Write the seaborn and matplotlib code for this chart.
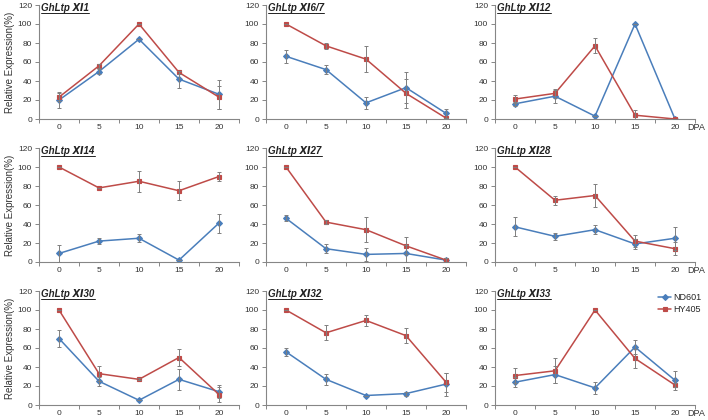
import numpy as np
import pandas as pd
import matplotlib
matplotlib.use("Agg")
import matplotlib.pyplot as plt
from matplotlib.lines import Line2D
import seaborn as sns

sns.set_style("ticks")
plt.rcParams['font.family'] = ['Liberation Sans', 'DejaVu Sans']

# data
dpa = ['0', '5', '10', '15', '20']
genes = ['GhLtp \u216a1', 'GhLtp \u216a6/7', 'GhLtp \u216a12',
         'GhLtp \u216a14', 'GhLtp \u216a27', 'GhLtp \u216a28',
         'GhLtp \u216a30', 'GhLtp \u216a32', 'GhLtp \u216a33']

nd601_mean = [[20, 50, 84, 42, 26],
              [66, 52, 17, 33, 6],
              [16, 24, 3, 100, 0],
              [9, 22, 25, 2, 41],
              [46, 14, 8, 9, 2],
              [37, 27, 34, 19, 25],
              [70, 25, 5, 27, 14],
              [56, 27, 10, 12, 22],
              [24, 32, 18, 61, 26]]
nd601_err = [[8, 3, 0, 9, 15],
             [7, 5, 6, 16, 5],
             [2, 7, 0, 0, 0],
             [9, 3, 4, 0, 10],
             [3, 5, 7, 9, 2],
             [10, 4, 5, 5, 12],
             [9, 5, 0, 11, 7],
             [4, 6, 0, 2, 12],
             [5, 9, 6, 7, 10]]
hy405_mean = [[23, 56, 100, 49, 23],
              [100, 77, 63, 27, 1],
              [21, 27, 77, 4, 0],
              [100, 78, 85, 75, 90],
              [100, 42, 34, 17, 2],
              [100, 65, 70, 22, 14],
              [100, 33, 27, 50, 11],
              [100, 76, 89, 73, 24],
              [31, 36, 100, 49, 21]]
hy405_err = [[4, 2, 0, 2, 12],
             [0, 3, 14, 15, 0],
             [4, 5, 8, 5, 0],
             [0, 0, 11, 10, 5],
             [0, 2, 13, 9, 2],
             [0, 5, 12, 6, 7],
             [0, 8, 1, 9, 8],
             [0, 8, 6, 8, 10],
             [8, 13, 0, 10, 2]]

lines = ['ND601', 'HY405']
colors = {'ND601': '#4A7EBB', 'HY405': '#BE4B48'}
spine_col = '#868686'
text_col = '#333333'

fig = plt.figure(figsize=(7.08, 4.2), dpi=100)

col_x = [39 / 708, 266 / 708, 495 / 708]
col_w = 200 / 708
row_y = [1 - 119 / 420, 1 - 262 / 420, 1 - 405 / 420]
row_h = 114 / 420

titles = []
for i, gene in enumerate(genes):
    r, c = divmod(i, 3)
    ax = fig.add_axes([col_x[c], row_y[r], col_w, row_h])

    df = pd.DataFrame({
        'DPA': dpa * 2,
        'line': ['ND601'] * 5 + ['HY405'] * 5,
        'value': nd601_mean[i] + hy405_mean[i],
    })
    sns.pointplot(data=df, x='DPA', y='value', hue='line', order=dpa,
                  hue_order=lines, palette=colors, markers=['D', 's'],
                  errorbar=None, markersize=3.0, linewidth=1.1,
                  legend=(i == 8), ax=ax)

    xpos = np.arange(len(dpa))
    for m, e in [(nd601_mean[i], nd601_err[i]), (hy405_mean[i], hy405_err[i])]:
        ax.errorbar(xpos, m, yerr=e, fmt='none', ecolor='#7F7F7F',
                    elinewidth=0.7, capsize=1.5, capthick=0.7, zorder=5)

    ax.set_xlim(-0.5, len(dpa) - 0.5)
    ax.set_ylim(0, 120)
    ax.set_yticks(range(0, 121, 20))
    ax.set_xticks(xpos)
    ax.set_xticklabels(dpa)
    ax.set_xticks(np.arange(-0.5, len(dpa), 1.0), minor=True)
    ax.tick_params(axis='x', which='major', length=0, labelsize=6,
                   colors=text_col, pad=3.5)
    ax.tick_params(axis='x', which='minor', length=3, color=spine_col,
                   width=0.7)
    ax.tick_params(axis='y', length=3, labelsize=6, colors=text_col,
                   width=0.7, pad=2)
    ax.tick_params(axis='y', color=spine_col)
    sns.despine(ax=ax)
    for sp in ['left', 'bottom']:
        ax.spines[sp].set_color(spine_col)
        ax.spines[sp].set_linewidth(0.8)
    ax.set_xlabel('')
    if c == 0:
        ax.set_ylabel('Relative Expression(%)', fontsize=7, color=text_col,
                      labelpad=2)
    else:
        ax.set_ylabel('')

    if c == 2:
        ax.annotate('DPA', xy=(0.962, 0), xycoords='axes fraction',
                    xytext=(0, -6), textcoords='offset points',
                    va='center', ha='left', fontsize=6.5, color=text_col)

    t = ax.text(0.012, 1.02, gene, transform=ax.transAxes, ha='left',
                va='top', fontsize=7, fontweight='bold', fontstyle='italic',
                color='#222222')
    titles.append(t)

    if i == 8:
        ax.legend(loc='upper right', bbox_to_anchor=(1.07, 1.05),
                  frameon=False, fontsize=6.5, handlelength=1.4,
                  handletextpad=0.2, labelspacing=0.3)

# underline the gene names
fig.canvas.draw()
renderer = fig.canvas.get_renderer()
inv = fig.transFigure.inverted()
for t in titles:
    bb = t.get_window_extent(renderer)
    (x0, y0), (x1, _) = inv.transform([[bb.x0, bb.y0], [bb.x1, bb.y1]])
    fig.add_artist(Line2D([x0, x1], [y0, y0], color='#222222',
                          linewidth=0.7, transform=fig.transFigure))

fig.savefig('out.png', dpi=100)
